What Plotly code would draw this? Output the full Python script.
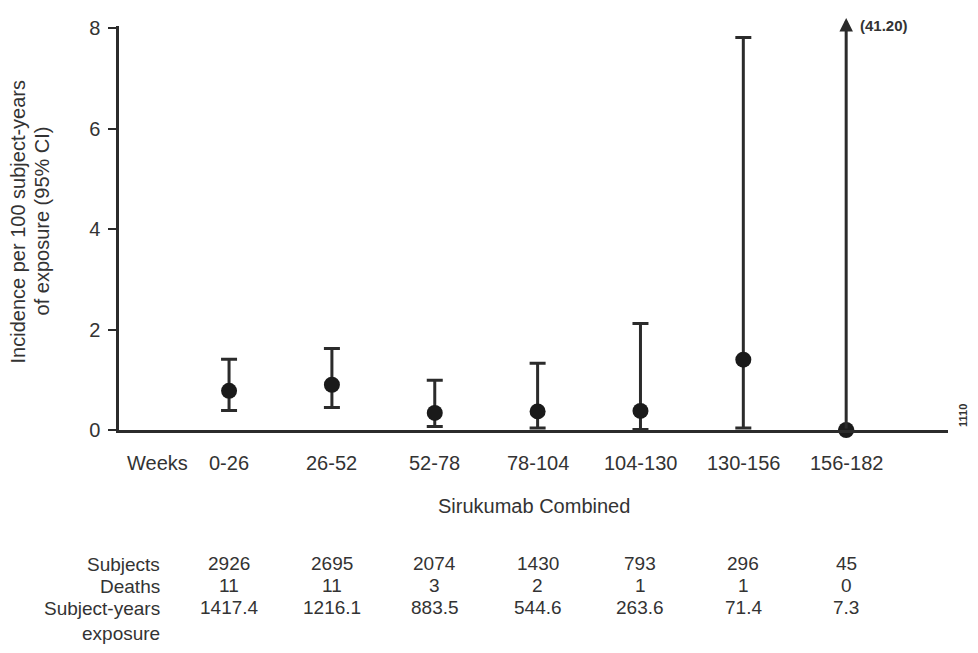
import plotly.graph_objects as go

periods = ["0-26", "26-52", "52-78", "78-104", "104-130", "130-156", "156-182"]
incidence = [0.78, 0.90, 0.34, 0.37, 0.38, 1.40, 0.00]
ci_lower = [0.39, 0.45, 0.07, 0.04, 0.01, 0.04, 0.00]
ci_upper = [1.41, 1.62, 0.99, 1.33, 2.12, 7.81, 41.20]
subjects = [2926, 2695, 2074, 1430, 793, 296, 45]
deaths = [11, 11, 3, 2, 1, 1, 0]
exposure = ["1417.4", "1216.1", "883.5", "544.6", "263.6", "71.4", "7.3"]
row_labels = ["Subjects", "Deaths", "Subject-years<br>exposure"]

YMAX = 8.04
FONT = "Liberation Sans, Arial, Helvetica, sans-serif"
INK = "#2b2b2b"
TXT = "#333333"
FS = 20

xpos = list(range(1, len(periods) + 1))
in_range = [u <= YMAX for u in ci_upper]
err_plus = [(u - v) if ok else 0 for u, v, ok in zip(ci_upper, incidence, in_range)]
err_minus = [v - l for v, l in zip(incidence, ci_lower)]

fig = go.Figure()
fig.add_trace(go.Scatter(
    x=xpos, y=incidence, mode="markers",
    marker=dict(size=16, color="#1a1a1a"),
    error_y=dict(type="data", symmetric=False, array=err_plus, arrayminus=err_minus,
                 color=INK, thickness=3, width=8),
    cliponaxis=False, showlegend=False,
))

# off-scale upper limit drawn as arrow, with its value printed beside it
for x, u, ok in zip(xpos, ci_upper, in_range):
    if not ok:
        fig.add_annotation(x=x, y=YMAX + 0.16, ax=x, ay=0, xref="x", yref="y",
                           axref="x", ayref="y", showarrow=True, arrowhead=2,
                           arrowsize=0.9, arrowwidth=3, arrowcolor=INK, text="")
        fig.add_annotation(x=x, y=1, xref="x", yref="paper", yshift=1, yanchor="middle",
                           text=f"<b>({u:.2f})</b>", showarrow=False, xanchor="left",
                           xshift=12, font=dict(family=FONT, size=15, color=TXT))

# x category labels
fig.add_annotation(x=1, y=0, xref="x", yref="y", yshift=-33, xshift=-39, xanchor="right",
                   text="Weeks", showarrow=False, font=dict(family=FONT, size=FS, color=TXT))
for x, p in zip(xpos, periods):
    fig.add_annotation(x=x, y=0, xref="x", yref="y", yshift=-33, text=p,
                       showarrow=False, font=dict(family=FONT, size=FS, color=TXT))

# x axis title
fig.add_annotation(x=0.5, xref="paper", y=0, yref="y", yshift=-76, text="Sirukumab Combined",
                   showarrow=False, font=dict(family=FONT, size=FS, color=TXT))

# y axis title (two lines)
fig.add_annotation(x=0, xref="paper", xshift=-101, xanchor="center", y=4.15, yref="y",
                   textangle=-90, text="Incidence per 100 subject-years", showarrow=False,
                   font=dict(family=FONT, size=FS, color=TXT))
fig.add_annotation(x=0, xref="paper", xshift=-77, xanchor="center", y=4.15, yref="y",
                   textangle=-90, text="of exposure (95% CI)", showarrow=False,
                   font=dict(family=FONT, size=FS, color=TXT))

# table rows
row_shift = [-133, -155, -177]
rows = [subjects, deaths, exposure]
for lab, ys, vals in zip(row_labels, row_shift, rows):
    fig.add_annotation(x=1, y=0, xref="x", yref="y", xshift=-67, yshift=ys + 11, text=lab,
                       showarrow=False, xanchor="right", yanchor="top", align="right",
                       font=dict(family=FONT, size=FS - 1, color=TXT))
    for x, v in zip(xpos, vals):
        fig.add_annotation(x=x, y=0, xref="x", yref="y", yshift=ys, text=str(v),
                           showarrow=False, xanchor="center", yanchor="middle",
                           font=dict(family=FONT, size=FS - 1, color=TXT))

fig.add_annotation(x=1.0, xref="paper", y=0, yref="y", xshift=23, yshift=14,
                   text="<b>1110</b>", textangle=-90, showarrow=False,
                   font=dict(family=FONT, size=11, color=TXT))

fig.update_layout(
    width=970, height=645,
    margin=dict(l=111, r=30, t=9, b=223),
    plot_bgcolor="white", paper_bgcolor="white",
    font=dict(family=FONT, size=FS, color=TXT),
    xaxis=dict(range=[-0.07, 7.99], showgrid=False, zeroline=False, showticklabels=False,
               ticks="", showline=True, linecolor=INK, linewidth=2.5),
    yaxis=dict(range=[0, YMAX], showgrid=False, zeroline=False, showline=True,
               linecolor=INK, linewidth=2.5, ticks="outside", ticklen=8, tickwidth=2,
               tickcolor=INK, tickvals=[0, 2, 4, 6, 8], ticklabelstandoff=4,
               tickfont=dict(family=FONT, size=FS, color=TXT)),
)

fig.write_html("out.html")
